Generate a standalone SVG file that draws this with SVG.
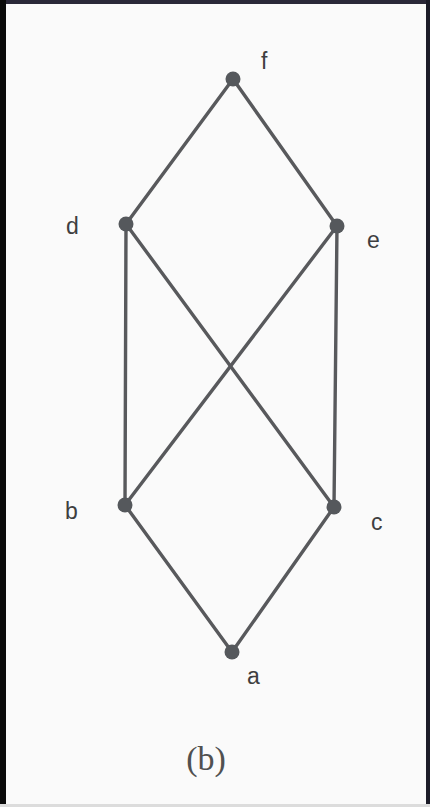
<svg xmlns="http://www.w3.org/2000/svg" width="430" height="807" viewBox="0 0 430 807">
<style>
.edge{stroke:#58595c;stroke-width:3.4;stroke-linecap:round;fill:none}
.dot{fill:#55585c}
.lbl{font-family:"Liberation Sans",Arial,sans-serif;font-size:23px;fill:#3e3e40}
.cap{font-family:"Liberation Serif","Times New Roman",serif;font-size:34px;fill:#505050}
</style>
<rect x="0" y="0" width="430" height="807" fill="#fafafa"/>
<rect x="0" y="0" width="430" height="4" fill="#2a2838"/>
<rect x="0" y="0" width="6" height="807" fill="#0a0a0a"/>
<rect x="426" y="0" width="4" height="807" fill="#1c1c28"/>
<rect x="0" y="804" width="430" height="3" fill="#dcdcdc"/>
<g id="connectors">
<line class="edge" x1="233" y1="79" x2="126" y2="224"/>
<line class="edge" x1="233" y1="79" x2="337" y2="226"/>
<line class="edge" x1="126" y1="224" x2="125" y2="505"/>
<line class="edge" x1="126" y1="224" x2="334" y2="507"/>
<line class="edge" x1="337" y1="226" x2="125" y2="505"/>
<line class="edge" x1="337" y1="226" x2="334" y2="507"/>
<line class="edge" x1="125" y1="505" x2="232" y2="652"/>
<line class="edge" x1="334" y1="507" x2="232" y2="652"/>
</g>
<g id="node-f"><circle class="dot" cx="233" cy="79" r="7.5"/><text class="lbl" x="261" y="69">f</text></g>
<g id="node-d"><circle class="dot" cx="126" cy="224" r="7.5"/><text class="lbl" x="66" y="234">d</text></g>
<g id="node-e"><circle class="dot" cx="337" cy="226" r="7.5"/><text class="lbl" x="367" y="248">e</text></g>
<g id="node-b"><circle class="dot" cx="125" cy="505" r="7.5"/><text class="lbl" x="65" y="519">b</text></g>
<g id="node-c"><circle class="dot" cx="334" cy="507" r="7.5"/><text class="lbl" x="371" y="530">c</text></g>
<g id="node-a"><circle class="dot" cx="232" cy="652" r="7.5"/><text class="lbl" x="247" y="684">a</text></g>
<text class="cap" x="206" y="770" text-anchor="middle">(b)</text>
</svg>
